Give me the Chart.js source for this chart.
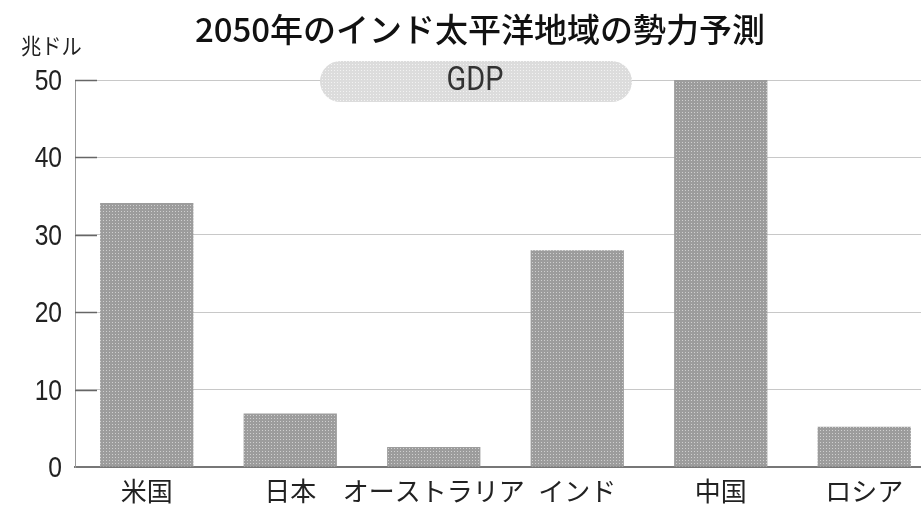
<!DOCTYPE html>
<html lang="ja">
<head>
<meta charset="utf-8">
<script src="https://cdn.jsdelivr.net/npm/chart.js@4/dist/chart.umd.min.js"></script>
<style>
    html, body { margin: 0; padding: 0; background: #fff; overflow: hidden; }
    #marco { width: 940px; height: 507px; }
</style>
</head>
<body>
<div id="marco"><canvas id="poderIndoPacifico"></canvas></div>
<script>
const paises = ["米国", "日本", "オーストラリア", "インド", "中国", "ロシア"];
const gdp2050 = [34.1, 6.9, 2.6, 28.0, 50.0, 5.2];
const marcasY = [0, 10, 20, 30, 40, 50];

const titulo = "2050年のインド太平洋地域の勢力予測";
const unidad = "兆ドル";
const etiquetaSerie = "GDP";

const fuenteJa = "'Noto Sans CJK JP', sans-serif";
const fuenteNum = "'Liberation Sans', Arial, sans-serif";

const lienzo = document.getElementById("poderIndoPacifico");
const ctx2d = lienzo.getContext("2d");

function trama(base, punto) {
    const c = document.createElement("canvas");
    c.width = 3;
    c.height = 3;
    const g = c.getContext("2d");
    g.fillStyle = base;
    g.fillRect(0, 0, 3, 3);
    g.fillStyle = punto;
    g.fillRect(1, 1, 1, 1);
    return ctx2d.createPattern(c, "repeat");
}

// texto estrechado en horizontal, como la tipografía condensada del original
function textoAngosto(ctx, texto, x, y, escala) {
    ctx.save();
    ctx.translate(x, y);
    ctx.scale(escala, 1);
    ctx.fillText(texto, 0, 0);
    ctx.restore();
}

const tramaBarra = trama("#9c9c9c", "#cfcfcf");
const tramaPildora = trama("#dcdcdc", "#f2f2f2");

const decoracion = {
    id: "decoracion",
    afterDraw(chart) {
        const { ctx, chartArea } = chart;
        const y = chart.scales.y;
        ctx.save();

        // marcas cortas dentro del eje y etiquetas del eje y
        ctx.strokeStyle = "#666";
        ctx.lineWidth = 1.5;
        ctx.fillStyle = "#222";
        ctx.font = "30px " + fuenteNum;
        ctx.textAlign = "right";
        ctx.textBaseline = "middle";
        y.ticks.forEach((t) => {
            const py = Math.round(y.getPixelForValue(t.value)) + 0.5;
            textoAngosto(ctx, String(t.value), chartArea.left - 13, py + 1, 0.82);
            if (t.value === 0) return;
            ctx.beginPath();
            ctx.moveTo(chartArea.left, py);
            ctx.lineTo(chartArea.left + 22, py);
            ctx.stroke();
        });

        // píldora "GDP"
        ctx.fillStyle = tramaPildora;
        ctx.beginPath();
        ctx.roundRect(320, 61, 312, 41, 20.5);
        ctx.fill();
        ctx.fillStyle = "#333";
        ctx.font = "34px Roboto, sans-serif";
        ctx.textAlign = "center";
        textoAngosto(ctx, etiquetaSerie, 475, 81, 0.85);

        // título
        ctx.fillStyle = "#111";
        ctx.font = "500 33px " + fuenteJa;
        ctx.fillText(titulo, 480, 29);

        // unidad
        ctx.fillStyle = "#222";
        ctx.font = "22px " + fuenteJa;
        ctx.textAlign = "left";
        textoAngosto(ctx, unidad, 21, 46, 0.92);

        ctx.restore();
    },
};

new Chart(lienzo, {
    type: "bar",
    data: {
        labels: paises,
        datasets: [
            {
                label: etiquetaSerie,
                data: gdp2050,
                backgroundColor: tramaBarra,
                borderWidth: 0,
                barPercentage: 0.65,
                categoryPercentage: 1,
            },
        ],
    },
    options: {
        responsive: true,
        maintainAspectRatio: false,
        animation: false,
        layout: { padding: { top: 80, right: 4, bottom: 0, left: 0 } },
        scales: {
            x: {
                afterFit: (scale) => {
                    scale.height = 40;
                },
                grid: { display: false, drawTicks: false },
                border: { color: "#777", width: 2 },
                ticks: {
                    padding: 11,
                    maxRotation: 0,
                    minRotation: 0,
                    autoSkip: false,
                    font: { family: fuenteJa, size: 26, lineHeight: 1.0 },
                    color: "#222",
                },
            },
            y: {
                min: 0,
                max: 50,
                afterBuildTicks: (scale) => {
                    scale.ticks = marcasY.map((v) => ({ value: v }));
                },
                afterFit: (scale) => {
                    scale.width = 75;
                },
                grid: { color: "#c8c8c8", drawTicks: false },
                border: { color: "#999", width: 1 },
                ticks: { display: false },
            },
        },
        plugins: {
            legend: { display: false },
            tooltip: { enabled: false },
        },
    },
    plugins: [decoracion],
});
</script>
</body>
</html>
